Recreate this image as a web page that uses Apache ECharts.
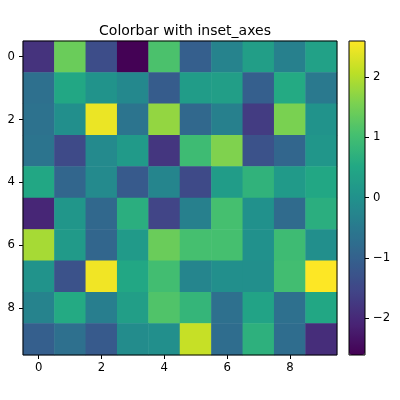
<!DOCTYPE html>
<html>
<head>
<meta charset="utf-8">
<script src="https://cdn.jsdelivr.net/npm/echarts@6/dist/echarts.min.js"></script>
<style>
  html, body { margin: 0; padding: 0; background: #fff; }
  #chart { width: 400px; height: 400px; }
</style>
</head>
<body>
<div id="chart"></div>
<script>
// axis categories
const xCats = ['0', '1', '2', '3', '4', '5', '6', '7', '8', '9']
const yCats = ['0', '1', '2', '3', '4', '5', '6', '7', '8', '9']
// cell values, one array per image row
const row0 = [-1.85, 1.4, -1.4, -2.6, 1.1, -1.05, -0.3, 0.3, -0.35, 0.35]
const row1 = [-0.7, 0.5, 0.05, -0.2, -1.1, 0.25, 0.3, -1.05, 0.55, -0.5]
const row2 = [-0.65, -0.05, 2.45, -0.6, 1.75, -0.85, -0.35, -1.7, 1.55, 0.05]
const row3 = [-0.6, -1.45, -0.15, 0.2, -1.8, 0.95, 1.6, -1.3, -0.9, 0.1]
const row4 = [0.5, -0.9, -0.15, -1.15, -0.25, -1.45, 0.25, 0.75, 0.2, 0.5]
const row5 = [-2.05, 0.1, -0.85, 0.65, -1.55, -0.35, 1.05, 0.0, -0.8, 0.65]
const row6 = [1.9, 0.2, -0.9, 0.2, 1.4, 1.05, 1.05, 0.0, 0.95, -0.05]
const row7 = [0.05, -1.3, 2.5, 0.5, 1.0, -0.25, -0.05, -0.05, 1.0, 2.6]
const row8 = [-0.3, 0.55, -0.4, 0.3, 1.15, 0.8, -0.7, 0.4, -0.7, 0.5]
const row9 = [-1.05, -0.7, -1.15, -0.1, -0.05, 2.15, -0.75, 0.7, -0.75, -1.95]
const rows = [row0, row1, row2, row3, row4, row5, row6, row7, row8, row9]
// colorbar ticks and range
const cbTicks = [-2, -1, 0, 1, 2]
const cbMin = -2.61
const cbMax = 2.6

const viridis = ['#440154', '#482475', '#414487', '#355f8d', '#2a788e', '#21918c',
  '#22a884', '#44bf70', '#7ad151', '#bddf26', '#fde725']

const cells = []
rows.forEach((r, yi) => r.forEach((v, xi) => cells.push([xi, yi, v])))

const minus = (v) => String(v).replace('-', '\u2212')
const font = 'DejaVu Sans'
const tickSize = 11.7

const chart = echarts.init(document.getElementById('chart'))
chart.setOption({
  animation: false,
  title: {
    text: 'Colorbar with inset_axes',
    left: 180,
    top: 19,
    textAlign: 'center',
    textStyle: { fontFamily: font, fontSize: 14, fontWeight: 'normal', color: '#000' }
  },
  grid: [
    { left: 23, top: 41, width: 314, height: 314, show: true, borderColor: '#000', borderWidth: 1, backgroundColor: 'transparent', z: 10 },
    { left: 349, top: 41, width: 16, height: 314, show: true, borderColor: '#000', borderWidth: 1, backgroundColor: 'transparent', z: 10 }
  ],
  xAxis: [
    {
      type: 'category', data: xCats, gridIndex: 0,
      axisLine: { show: false },
      axisTick: { show: true, interval: 1, alignWithLabel: true, length: 4, lineStyle: { color: '#000' } },
      axisLabel: { interval: 1, fontFamily: font, fontSize: tickSize, color: '#000', margin: 7 },
      splitLine: { show: false }
    },
    { type: 'category', data: ['c'], gridIndex: 1, show: false }
  ],
  yAxis: [
    {
      type: 'category', data: yCats, gridIndex: 0, inverse: true,
      axisLine: { show: false },
      axisTick: { show: true, interval: 1, alignWithLabel: true, length: 4, lineStyle: { color: '#000' } },
      axisLabel: { interval: 1, fontFamily: font, fontSize: tickSize, color: '#000', margin: 8 },
      splitLine: { show: false }
    },
    {
      type: 'value', gridIndex: 1, position: 'right', min: cbMin, max: cbMax,
      axisLine: { show: false },
      axisTick: { show: true, length: 4, customValues: cbTicks, lineStyle: { color: '#000' } },
      axisLabel: { fontFamily: font, fontSize: tickSize, color: '#000', margin: 8, customValues: cbTicks, formatter: minus },
      splitLine: { show: false }
    }
  ],
  visualMap: {
    type: 'continuous',
    seriesIndex: 0,
    min: cbMin,
    max: cbMax,
    calculable: false,
    showLabel: false,
    text: null,
    orient: 'vertical',
    left: 349,
    top: 41,
    padding: 0,
    itemWidth: 16,
    itemHeight: 314,
    inRange: { color: viridis }
  },
  series: [
    {
      type: 'heatmap',
      xAxisIndex: 0,
      yAxisIndex: 0,
      data: cells,
      itemStyle: { borderWidth: 0 },
      emphasis: { disabled: true }
    }
  ]
})
</script>
</body>
</html>
